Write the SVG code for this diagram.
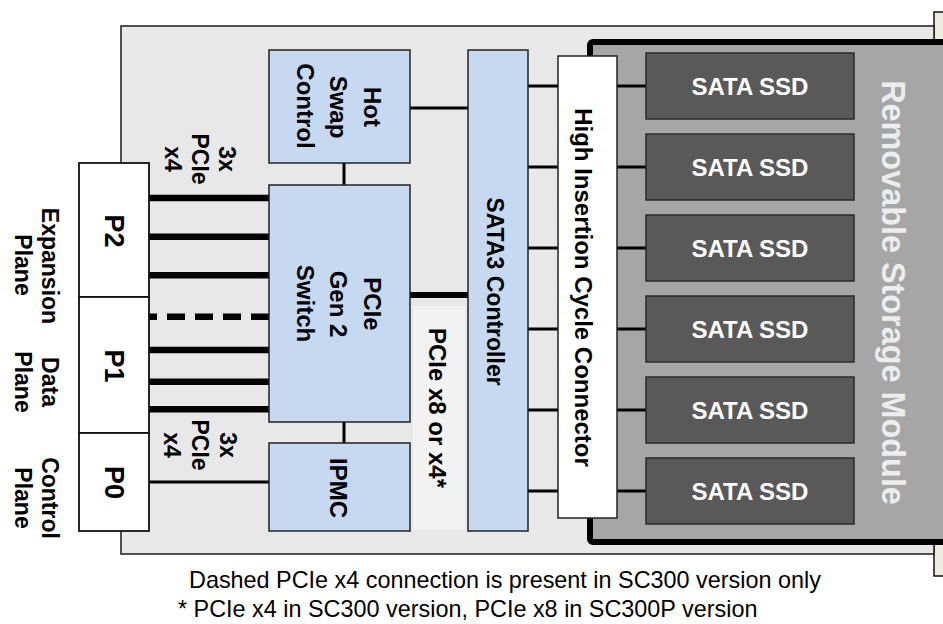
<svg xmlns="http://www.w3.org/2000/svg" width="943" height="624" viewBox="0 0 943 624">
<style>
.t{font-family:"Liberation Sans",Arial,sans-serif;font-weight:bold;font-size:23px;fill:#000;text-anchor:middle;dominant-baseline:central}
.blue{fill:#c6d9f1;stroke:#222;stroke-width:1.5}
.ssd{fill:#595959;stroke:#2a2a2a;stroke-width:1.5}
.ssdt{font-family:"Liberation Sans",Arial,sans-serif;font-weight:bold;font-size:24px;fill:#fff;text-anchor:middle;dominant-baseline:central}
.pbox{fill:#fff;stroke:#111;stroke-width:1.8}
.thick{stroke:#000;stroke-width:6.5;fill:none}
.thin{stroke:#000;stroke-width:3;fill:none}
.foot{font-family:"Liberation Sans",Arial,sans-serif;font-size:23.4px;fill:#000}
</style>
<rect width="943" height="624" fill="#fff"/>
<rect id="bracket" x="934" y="12" width="20" height="564" fill="#eeece1" stroke="#111" stroke-width="1.5"/>
<g id="board"><rect x="121" y="26" width="813" height="528" fill="#e8e8e8" stroke="#1a1a1a" stroke-width="1.5"/></g>
<g id="pcie-label-bg"><rect x="413" y="306" width="52" height="224" fill="#f2f2f2"/></g>
<g id="storage-module">
<rect x="590" y="42" width="400" height="500" rx="3" fill="#a6a6a6" stroke="#000" stroke-width="6"/>
<text class="t" transform="translate(893,292.5) rotate(90)" style="font-size:32.4px;fill:#ededed">Removable Storage Module</text>
</g>
<g id="connectors">
<line class="thick" x1="149" y1="198" x2="269" y2="198"/>
<line class="thick" x1="149" y1="236.7" x2="269" y2="236.7"/>
<line class="thick" x1="149" y1="275.3" x2="269" y2="275.3"/>
<line class="thick" x1="149" y1="316.7" x2="269" y2="316.7" stroke-dasharray="18 10" stroke-dashoffset="10"/>
<line class="thick" x1="149" y1="350" x2="269" y2="350"/>
<line class="thick" x1="149" y1="381.7" x2="269" y2="381.7"/>
<line class="thick" x1="149" y1="409.3" x2="269" y2="409.3"/>
<line class="thin" x1="149" y1="482" x2="269" y2="482"/>
<line class="thin" x1="344" y1="163" x2="344" y2="185"/>
<line class="thin" x1="344" y1="422" x2="344" y2="443"/>
<line class="thin" x1="410" y1="108" x2="468" y2="108"/>
<line class="thick" x1="410" y1="295" x2="468" y2="295" style="stroke-width:6"/>
<line class="thin" x1="528" y1="86" x2="558" y2="86"/>
<line class="thin" x1="528" y1="167" x2="558" y2="167"/>
<line class="thin" x1="528" y1="248" x2="558" y2="248"/>
<line class="thin" x1="528" y1="329" x2="558" y2="329"/>
<line class="thin" x1="528" y1="410" x2="558" y2="410"/>
<line class="thin" x1="528" y1="491" x2="558" y2="491"/>
<line class="thin" x1="617" y1="86" x2="646" y2="86"/>
<line class="thin" x1="617" y1="167" x2="646" y2="167"/>
<line class="thin" x1="617" y1="248" x2="646" y2="248"/>
<line class="thin" x1="617" y1="329" x2="646" y2="329"/>
<line class="thin" x1="617" y1="410" x2="646" y2="410"/>
<line class="thin" x1="617" y1="491" x2="646" y2="491"/>
</g>
<g id="p2"><rect class="pbox" x="79" y="163" width="70" height="134"/><text class="t" transform="translate(113.5,231) rotate(90)" style="font-size:27px">P2</text></g>
<g id="p1"><rect class="pbox" x="79" y="297" width="70" height="136"/><text class="t" transform="translate(113.5,366) rotate(90)" style="font-size:27px">P1</text></g>
<g id="p0"><rect class="pbox" x="79" y="433" width="70" height="98"/><text class="t" transform="translate(113.5,482.5) rotate(90)" style="font-size:27px">P0</text></g>
<g id="plane-labels">
<text class="t" transform="translate(50,266) rotate(90)">Expansion</text>
<text class="t" transform="translate(23,265) rotate(90)">Plane</text>
<text class="t" transform="translate(50,382) rotate(90)">Data</text>
<text class="t" transform="translate(23,382) rotate(90)">Plane</text>
<text class="t" transform="translate(50,498) rotate(90)">Control</text>
<text class="t" transform="translate(23,498) rotate(90)">Plane</text>
</g>
<g id="lane-label-top">
<text class="t" transform="translate(227,159) rotate(90)">3x</text>
<text class="t" transform="translate(200,159) rotate(90)">PCIe</text>
<text class="t" transform="translate(173,159) rotate(90)">x4</text>
</g>
<g id="lane-label-bottom">
<text class="t" transform="translate(228,445) rotate(90)">3x</text>
<text class="t" transform="translate(200,445) rotate(90)">PCIe</text>
<text class="t" transform="translate(172,445) rotate(90)">x4</text>
</g>
<g id="hot-swap">
<rect class="blue" x="269" y="50" width="141" height="113"/>
<text class="t" transform="translate(372,107) rotate(90)" style="font-size:24px">Hot</text>
<text class="t" transform="translate(338,107) rotate(90)" style="font-size:24px">Swap</text>
<text class="t" transform="translate(305,106) rotate(90)" style="font-size:24px">Control</text>
</g>
<g id="pcie-switch">
<rect class="blue" x="269" y="185" width="141" height="237"/>
<text class="t" transform="translate(372,304) rotate(90)" style="font-size:24px">PCIe</text>
<text class="t" transform="translate(338,304) rotate(90)" style="font-size:24px">Gen 2</text>
<text class="t" transform="translate(305,303.5) rotate(90)" style="font-size:24px">Switch</text>
</g>
<g id="ipmc">
<rect class="blue" x="269" y="443" width="141" height="88"/>
<text class="t" transform="translate(338,488) rotate(90)" style="font-size:24px">IPMC</text>
</g>
<g id="pcie-label"><text class="t" transform="translate(437,408) rotate(90)" style="font-size:24px">PCIe x8 or x4*</text></g>
<g id="sata3">
<rect class="blue" x="468" y="50" width="60" height="481"/>
<text class="t" transform="translate(495,291.5) rotate(90)">SATA3 Controller</text>
</g>
<g id="hic-connector">
<rect x="558" y="56" width="59" height="462" fill="#fff" stroke="#222" stroke-width="1.5"/>
<text class="t" transform="translate(583,287.5) rotate(90)" style="font-size:24px">High Insertion Cycle Connector</text>
</g>
<g id="ssd1"><rect class="ssd" x="646" y="53" width="208" height="66"/><text class="ssdt" x="750" y="86">SATA SSD</text></g>
<g id="ssd2"><rect class="ssd" x="646" y="134" width="208" height="66"/><text class="ssdt" x="750" y="167">SATA SSD</text></g>
<g id="ssd3"><rect class="ssd" x="646" y="215" width="208" height="66"/><text class="ssdt" x="750" y="248">SATA SSD</text></g>
<g id="ssd4"><rect class="ssd" x="646" y="296" width="208" height="66"/><text class="ssdt" x="750" y="329">SATA SSD</text></g>
<g id="ssd5"><rect class="ssd" x="646" y="377" width="208" height="66"/><text class="ssdt" x="750" y="410">SATA SSD</text></g>
<g id="ssd6"><rect class="ssd" x="646" y="458" width="208" height="66"/><text class="ssdt" x="750" y="491">SATA SSD</text></g>
<g id="footnotes">
<text class="foot" x="189" y="588">Dashed PCIe x4 connection is present in SC300 version only</text>
<text class="foot" x="178" y="617">* PCIe x4 in SC300 version, PCIe x8 in SC300P version</text>
</g>
</svg>
